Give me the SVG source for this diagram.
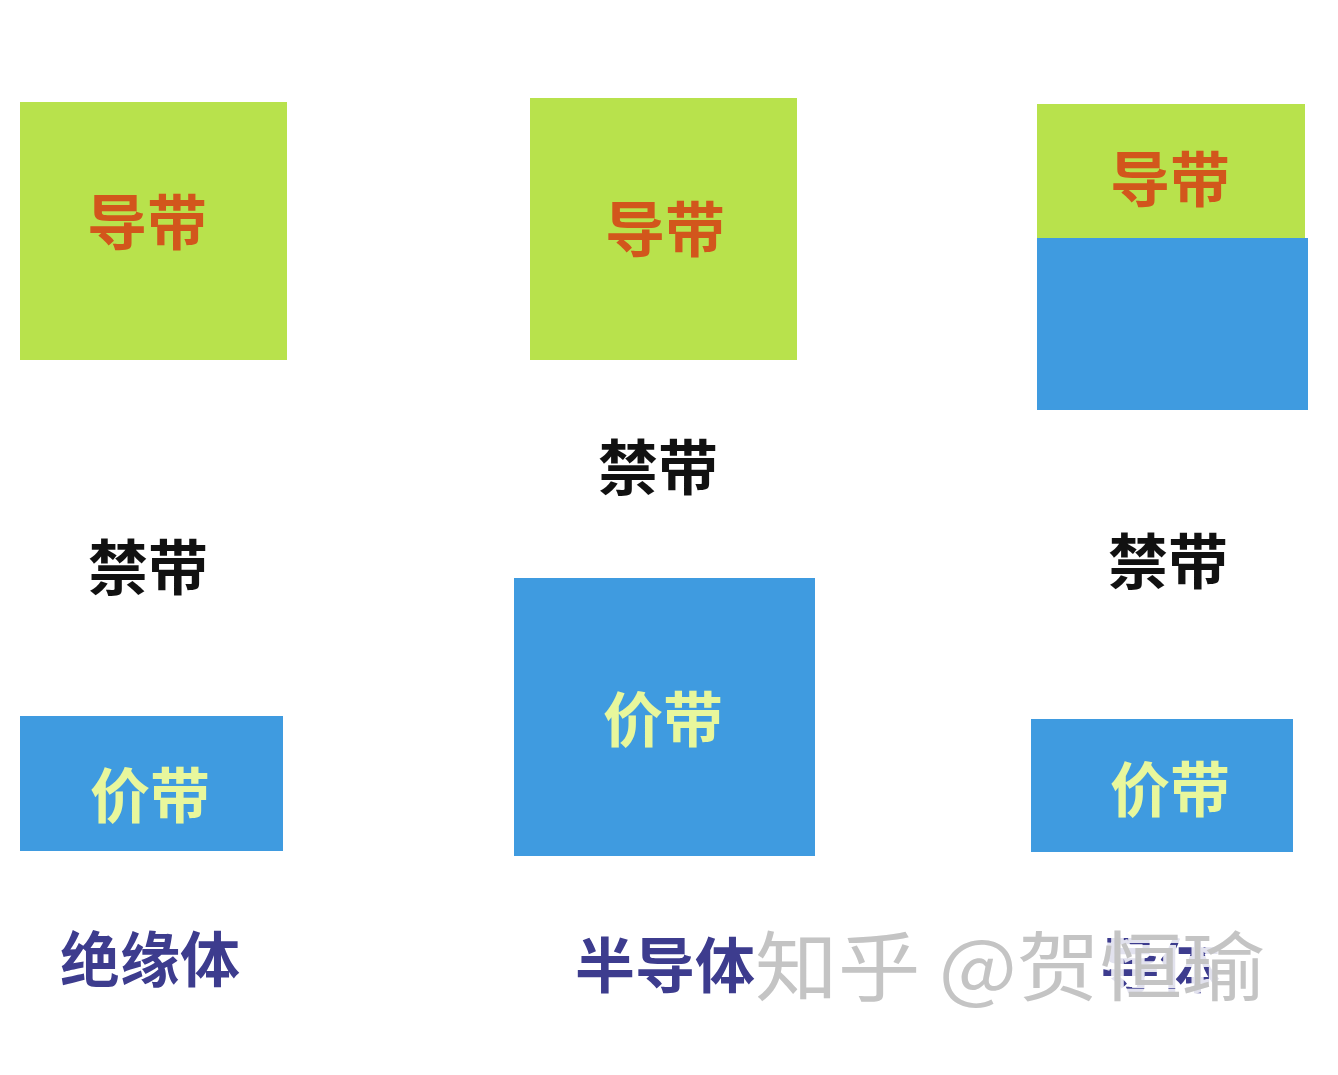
<svg xmlns="http://www.w3.org/2000/svg" width="1338" height="1075" viewBox="0 0 1338 1075">
<style>
text{font-family:"Noto Sans CJK SC","Noto Sans",sans-serif;text-anchor:middle;font-weight:bold;font-size:60px}
.cb{fill:#b8e24c}
.vb{fill:#3f9be0}
.ct{fill:#d2561c}
.vt{fill:#e8f79c}
.gt{fill:#111111}
.lb{fill:#3d3c8e}
.wm{fill:#c4c4c4;font-weight:normal;font-size:76px;stroke:#ffffff;stroke-width:6px;paint-order:stroke;stroke-opacity:0.85}
</style>
<rect width="1338" height="1075" fill="#ffffff"/>
<g id="insulator">
<g id="ins-conduction"><rect class="cb" x="20" y="102" width="267" height="258"/><text class="ct" x="147" y="245">导带</text></g>
<g id="ins-gap"><text class="gt" x="148" y="590">禁带</text></g>
<g id="ins-valence"><rect class="vb" x="20" y="716" width="263" height="135"/><text class="vt" x="150" y="818">价带</text></g>
<g id="ins-label"><text class="lb" x="150" y="982">绝缘体</text></g>
</g>
<g id="semiconductor">
<g id="semi-conduction"><rect class="cb" x="530" y="98" width="267" height="262"/><text class="ct" x="665" y="252">导带</text></g>
<g id="semi-gap"><text class="gt" x="658" y="490">禁带</text></g>
<g id="semi-valence"><rect class="vb" x="514" y="578" width="301" height="278"/><text class="vt" x="663" y="742">价带</text></g>
<g id="semi-label"><text class="lb" x="665" y="988">半导体</text></g>
</g>
<g id="conductor">
<g id="cond-conduction"><rect class="cb" x="1037" y="104" width="268" height="134"/><rect class="vb" x="1037" y="238" width="271" height="172"/><text class="ct" x="1170" y="202">导带</text></g>
<g id="cond-gap"><text class="gt" x="1168" y="584">禁带</text></g>
<g id="cond-valence"><rect class="vb" x="1031" y="719" width="262" height="133"/><text class="vt" x="1170" y="812">价带</text></g>
<g id="cond-label"><text class="lb" x="1160" y="988">导体</text></g>
</g>
<g id="connectors"></g>
<g id="watermark"><text class="wm" x="1010" y="995" textLength="510" lengthAdjust="spacingAndGlyphs">知乎 @贺恒瑜</text></g>
</svg>
